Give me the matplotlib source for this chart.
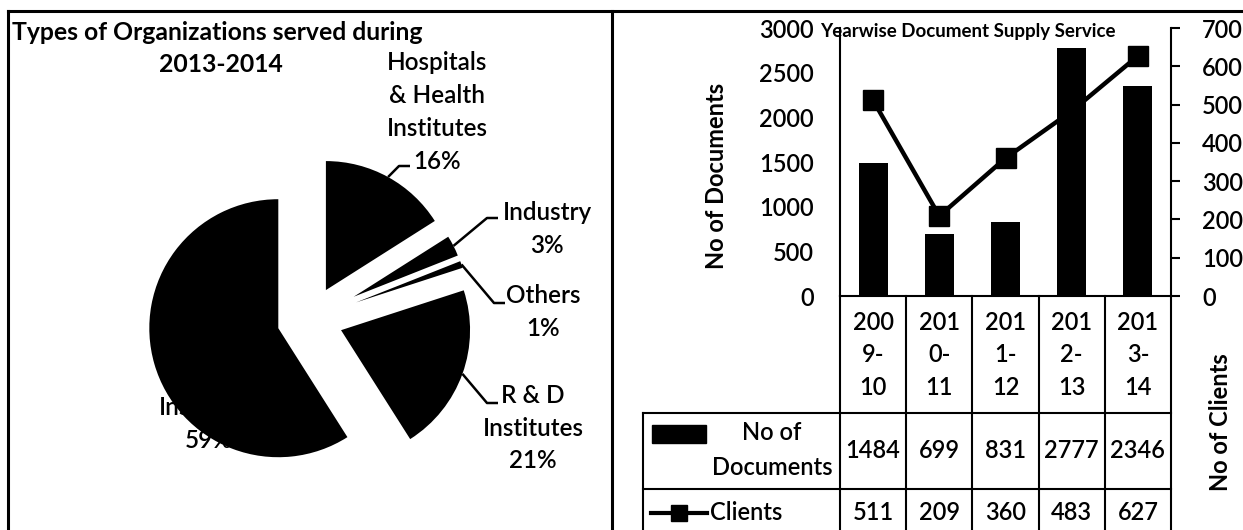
import numpy as np
import matplotlib
matplotlib.use('Agg')
import matplotlib.pyplot as plt
from matplotlib import transforms
from matplotlib.patches import Rectangle

plt.rcParams['font.family'] = ['Lato', 'DejaVu Sans']
plt.rcParams['font.weight'] = 'semibold'

# organisations served 2013-2014 (percent)
org_names = ['Hospitals\n& Health\nInstitutes', 'Industry', 'Others', 'R & D\nInstitutes', 'Institutes']
org_share = [16, 3, 1, 21, 59]

# yearwise document supply
years = ['2009-10', '2010-11', '2011-12', '2012-13', '2013-14']
documents = [1484, 699, 831, 2777, 2346]
clients = [511, 209, 360, 483, 627]

W, H = 1243, 530
FS = 17
LS = 1.52

fig = plt.figure(figsize=(W / 100, H / 100), dpi=100)

# full-figure axes in pixel units (y pointing down) for pie, borders and table
base = fig.add_axes([0, 0, 1, 1])

'''
Pie chart (left panel)
'''
explode = [33, 49, 49, 33, 33]
wedges, _ = base.pie(org_share, startangle=-90, counterclock=True,
                     center=(310, 319), radius=129, explode=explode,
                     colors=['black'] * len(org_share),
                     wedgeprops=dict(linewidth=0))
for w in wedges[1:3]:
    w.set_radius(112)

base.set_aspect('auto')
base.set_xlim(0, W)
base.set_ylim(H, 0)
base.axis('off')

label_pos = [(437, 112), (547, 229), (543, 312), (533, 428), (209, 424)]
leader_start = [(410, 166), (498, 218), (505, 303), (498, 403), None]
for i, (name, share) in enumerate(zip(org_names, org_share)):
    lx, ly = label_pos[i]
    base.text(lx, ly, '{}\n{}%'.format(name, share), ha='center', va='center',
              fontsize=17.5, linespacing=LS, color='black')
    if leader_start[i] is None:
        continue
    w = wedges[i]
    th = np.deg2rad((w.theta1 + w.theta2) / 2)
    ex = w.center[0] + w.r * np.cos(th)
    ey = w.center[1] + w.r * np.sin(th)
    sx, sy = leader_start[i]
    base.plot([sx, sx - 11, ex], [sy, sy, ey], color='black', lw=1.8,
              solid_capstyle='butt')

base.text(12, 33, 'Types of Organizations served during', ha='left', va='center',
          fontsize=17.8, fontweight='bold')
base.text(221, 64, '2013-2014', ha='center', va='center', fontsize=17.8, fontweight='bold')

# panel frames
base.plot([8, W], [11, 11], color='black', lw=2.2)
base.plot([8, 8], [11, H], color='black', lw=2.2)
base.plot([612, 612], [11, H], color='black', lw=2.2)

'''
Bar + line chart (right panel)
'''
x = np.arange(len(years))
ax = fig.add_axes([840 / W, 1 - 296 / H, (1171 - 840) / W, (296 - 28) / H])
ax.patch.set_alpha(0)
ax.bar(x, documents, width=0.44, color='black')
ax.set_xlim(-0.5, len(years) - 0.5)
ax.set_ylim(0, 3000)
ax.set_yticks(np.arange(0, 3001, 500))
ax.set_xticks([])
ax.tick_params(axis='y', length=0, pad=19, labelsize=FS)
for s in ['top', 'right']:
    ax.spines[s].set_visible(False)
ax.spines['left'].set_linewidth(1.5)
ax.spines['bottom'].set_linewidth(1.5)

ax2 = ax.twinx()
ax2.plot(x, clients, '-s', color='black', lw=3.2, ms=14)
ax2.set_ylim(0, 700)
ax2.set_yticks(np.arange(0, 701, 100))
ax2.tick_params(axis='y', length=6.5, width=1.5, pad=16, labelsize=FS)
for s in ['top', 'left', 'bottom']:
    ax2.spines[s].set_visible(False)
ax2.spines['right'].set_linewidth(1.5)

fig.text(968 / W, 1 - 32 / H, 'Yearwise Document Supply Service', ha='center',
         va='center', fontsize=13.5, fontweight='bold')
fig.text(717 / W, 1 - 176 / H, 'No of Documents', rotation=90, ha='center',
         va='center', fontsize=FS, fontweight='bold')
fig.text(1221 / W, 1 - 422 / H, 'No of Clients', rotation=90, ha='center',
         va='center', fontsize=FS, fontweight='bold')

# data table under the axis
trans = transforms.blended_transform_factory(ax.transData, base.transData)
for i in range(len(years) + 1):
    base.plot([i - 0.5, i - 0.5], [296, H], color='black', lw=1.5, transform=trans)
for yy in [413, 489]:
    base.plot([643, 1171], [yy, yy], color='black', lw=1.5)
base.plot([643, 643], [413, H], color='black', lw=1.5)

for i, yr in enumerate(years):
    wrapped = yr[:3] + '\n' + yr[3:5] + '\n' + yr[5:]
    base.text(i, 355, wrapped, transform=trans, ha='center', va='center',
              fontsize=FS, linespacing=LS)
    base.text(i, 451, str(documents[i]), transform=trans, ha='center',
              va='center', fontsize=FS)
    base.text(i, 512, str(clients[i]), transform=trans, ha='center',
              va='center', fontsize=FS)

# row labels with legend keys
base.add_patch(Rectangle((652, 425), 54, 18, color='black'))
base.text(772, 450, 'No of\nDocuments', ha='center', va='center', fontsize=FS,
          linespacing=1.6)
base.plot([651, 707], [513, 513], color='black', lw=3)
base.plot([679], [513], 's', color='black', ms=11)
base.text(710, 513, 'Clients', ha='left', va='center', fontsize=FS)

fig.savefig('out.png', dpi=100)
